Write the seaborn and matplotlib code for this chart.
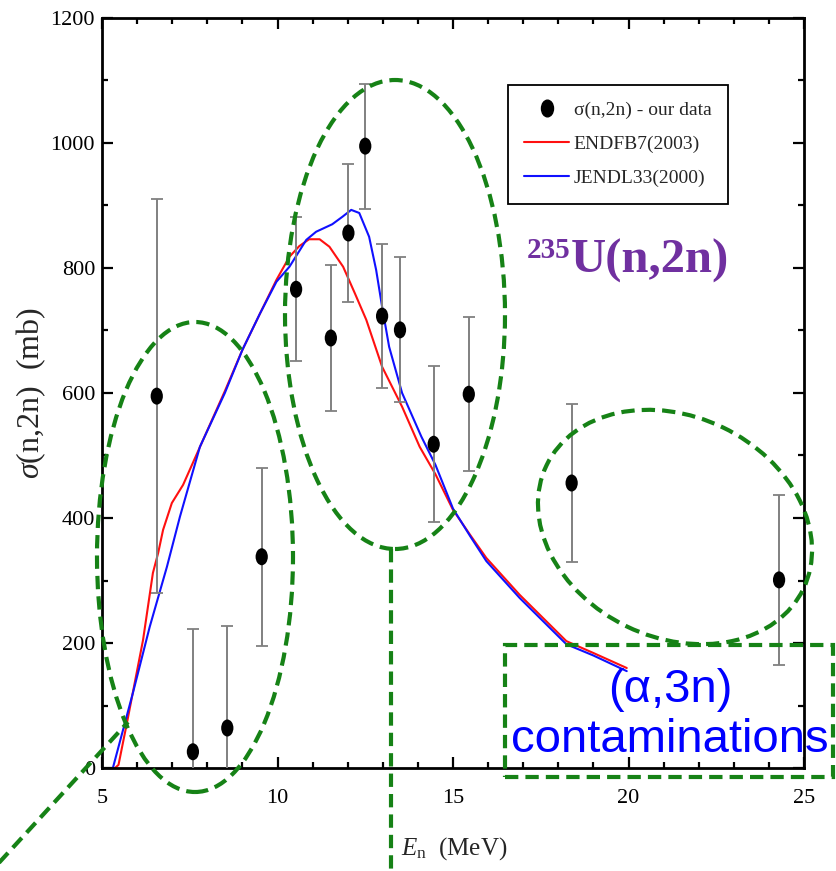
import numpy as np
import pandas as pd
import matplotlib
matplotlib.use("Agg")
import matplotlib.pyplot as plt
from matplotlib.path import Path
from matplotlib.transforms import Affine2D
from matplotlib.patches import Ellipse, Rectangle
from matplotlib.lines import Line2D
from matplotlib.ticker import MultipleLocator
import seaborn as sns

# Measured 235U(n,2n) cross sections
energy = [6.56, 7.59, 8.57, 9.55, 10.53, 11.52, 12.02, 12.50, 12.98, 13.49, 14.45, 15.45, 18.38, 24.29]
sigma = [595, 26, 64, 338, 766, 688, 856, 995, 723, 701, 518, 598, 456, 301]
sigma_err = [315, 197, 163, 142, 115, 117, 110, 100, 115, 116, 125, 123, 127, 136]

# Evaluated excitation functions
endf_energy = [5.37, 5.47, 5.71, 6.17, 6.45, 6.60, 6.74, 6.99, 7.31, 7.88, 8.5, 9.0, 9.5, 9.97,
               10.34, 10.62, 10.9, 11.2, 11.48, 11.87, 12.2, 12.53, 12.98, 13.55, 14.05, 14.5,
               15.0, 15.5, 15.95, 16.9, 18.23, 19.0, 19.95]
endf_sigma = [0, 5, 72, 205, 312, 344, 381, 424, 453, 525, 603, 669, 727, 781,
              818, 835, 846, 846, 834, 802, 760, 717, 642, 578, 514, 470,
              413, 372, 336, 277, 203, 184, 160]
jendl_energy = [5.31, 5.88, 6.36, 6.85, 7.22, 7.79, 8.5, 9.0, 9.5, 9.97, 10.34, 10.82, 11.1,
                11.56, 11.85, 12.1, 12.33, 12.61, 12.81, 12.98, 13.18, 13.55, 14.1, 14.5, 15.0,
                15.5, 15.95, 16.9, 18.23, 19.0, 19.95]
jendl_sigma = [0, 120, 226, 322, 402, 514, 600, 669, 727, 778, 802, 845, 858,
               870, 882, 893, 888, 850, 797, 738, 674, 600, 530, 485, 415,
               370, 331, 272, 198, 180, 155]

x_ticks = [5, 10, 15, 20, 25]
y_ticks = [0, 200, 400, 600, 800, 1000, 1200]
series_names = ["ENDFB7(2003)", "JENDL33(2000)"]
data_label = "σ(n,2n) - our data"

sns.set_theme(style="ticks")
plt.rcParams["font.family"] = ["Liberation Serif", "DejaVu Serif"]
plt.rcParams["mathtext.fontset"] = "custom"
plt.rcParams["mathtext.rm"] = "Liberation Serif"
plt.rcParams["mathtext.it"] = "Liberation Serif:italic"
plt.rcParams["mathtext.bf"] = "Liberation Serif:bold"

W, H = 837, 871
fig = plt.figure(figsize=(W / 100, H / 100), dpi=100)
fig.patch.set_facecolor("white")
ax = fig.add_axes([102 / W, 1 - 768 / H, (804 - 102) / W, (768 - 18) / H])
ax.set_facecolor("white")

curves = pd.concat([
    pd.DataFrame({"E": endf_energy, "sigma": endf_sigma, "lib": series_names[0]}),
    pd.DataFrame({"E": jendl_energy, "sigma": jendl_sigma, "lib": series_names[1]}),
])
sns.lineplot(data=curves, x="E", y="sigma", hue="lib", hue_order=series_names,
             palette={series_names[0]: "#ff1010", series_names[1]: "#1010ff"},
             estimator=None, sort=False, lw=1.5, legend=False, ax=ax, zorder=2)

# error bars: grey stems, dark caps
_, caps, stems = ax.errorbar(energy, sigma, yerr=sigma_err, fmt="none", ecolor="#808080",
                             elinewidth=1.4, capsize=4.5, capthick=1.3, zorder=3)
for c in caps:
    c.set_color("#303030")

dot = Affine2D().scale(0.72, 1.0).transform_path(Path.unit_circle())
sns.scatterplot(x=energy, y=sigma, marker=dot, s=150, color="black", edgecolor="none",
                linewidth=0, ax=ax, zorder=4)

ax.set_xlim(5, 25)
ax.set_ylim(0, 1200)
ax.set_xticks(x_ticks)
ax.set_yticks(y_ticks)
ax.xaxis.set_minor_locator(MultipleLocator(1))
ax.yaxis.set_minor_locator(MultipleLocator(100))
ax.tick_params(which="both", direction="in", top=True, right=True, width=1.6,
               colors="black", labelsize=16)
ax.tick_params(axis="x", which="major", pad=15)
ax.tick_params(axis="y", which="major", pad=5)
ax.tick_params(which="major", length=8)
ax.tick_params(which="minor", length=4.5)
for s in ax.spines.values():
    s.set_linewidth(2.0)
    s.set_color("black")

ax.set_xlabel(r"$E_{\rm n}$  (MeV)", fontsize=18, va="top")
ax.xaxis.set_label_coords(0.502, -0.089)
ax.set_ylabel(r"$\sigma$(n,2n)  (mb)", fontsize=23)
ax.yaxis.set_label_coords(-0.077, 0.5)

handles = [
    Line2D([], [], marker=dot, color="black", ls="none", markersize=12),
    Line2D([], [], color="#ff1010", lw=1.5),
    Line2D([], [], color="#1010ff", lw=1.5),
]
leg = ax.legend(handles, [data_label] + series_names, loc="upper left",
                bbox_to_anchor=(0.578, 0.911), fontsize=14, frameon=True, fancybox=False,
                framealpha=1, edgecolor="black", handlelength=2.3, handletextpad=0.25,
                borderpad=0.85, labelspacing=0.85, borderaxespad=0)
leg.get_frame().set_linewidth(1.3)

# annotations drawn in figure pixel space
green = "#168216"
dash = (0, (3.2, 1.7))
tr = fig.dpi_scale_trans


def P(x, y):
    return (x / 100, (H - y) / 100)


for (cx, cy, w, h, ang) in [(195, 557, 196, 470, 0), (395, 314.5, 220, 469, 0),
                            (675, 527, 285, 221, -25.7)]:
    fig.add_artist(Ellipse(P(cx, cy), w / 100, h / 100, angle=ang, transform=tr,
                           fill=False, ec=green, lw=3, ls=dash, zorder=6))
for (x0, y0, x1, y1) in [(391, 549, 391, 875), (-4, 866, 128, 722)]:
    a, b = P(x0, y0), P(x1, y1)
    fig.add_artist(Line2D([a[0], b[0]], [a[1], b[1]], transform=tr, color=green, lw=3,
                          ls=dash, zorder=6))
fig.add_artist(Rectangle(P(505, 777), 328 / 100, 132 / 100, transform=tr, fill=False,
                         ec=green, lw=3, ls=dash, zorder=6))

fig.text(670 / W, 1 - 690 / H, "(α,3n)", color="#0000ff", fontsize=34,
         family="Liberation Sans", ha="center", va="center", zorder=7)
fig.text(670 / W, 1 - 740 / H, "contaminations", color="#0000ff", fontsize=34,
         family="Liberation Sans", ha="center", va="center", zorder=7)

purple = "#7030a0"
fig.text(571 / W, 1 - 273 / H, "U(n,2n)", color=purple, fontsize=35, weight="bold",
         ha="left", va="baseline")
fig.text(571 / W, 1 - 258 / H, "235", color=purple, fontsize=21, weight="bold",
         ha="right", va="baseline")

fig.savefig("out.png", dpi=100)
